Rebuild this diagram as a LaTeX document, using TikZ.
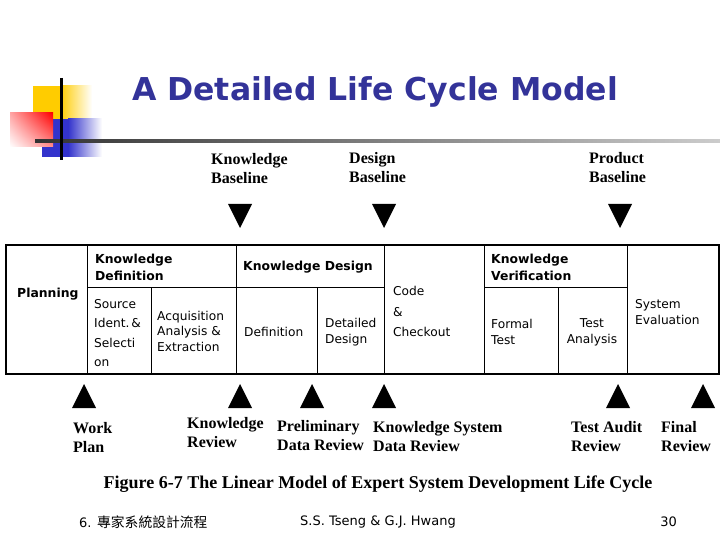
\documentclass[tikz,border=0pt]{standalone}
\usepackage{fontspec}
\usetikzlibrary{shadings}
\setmainfont{Liberation Serif}
\setsansfont{DejaVu Sans}
\newfontfamily\cjkfont{Noto Sans CJK TC}
\definecolor{titleblue}{RGB}{51,51,153}
\definecolor{sqyellow}{RGB}{255,204,0}
\definecolor{sqblue}{RGB}{51,51,204}
\begin{document}
\begin{tikzpicture}[x=1pt,y=-1pt,
  tabtxt/.style={font=\sffamily\fontsize{12.2}{16}\selectfont, inner sep=0pt, align=left, anchor=west},
  tabbold/.style={font=\sffamily\bfseries\fontsize{12.4}{17}\selectfont, inner sep=0pt, align=left, anchor=west},
  mslabel/.style={font=\bfseries\fontsize{16}{19}\selectfont, inner sep=0pt, align=left, anchor=west},
  outer/.style={line width=2pt},
  inner/.style={line width=1pt},
  tri/.style={fill=black}]
\useasboundingbox (0,0) rectangle (720,540);
% decoration
\fill[sqyellow] (33,86) rectangle (60,119);
\shade[left color=sqyellow, right color=white] (60,86) rectangle (92,119);
\fill[sqblue] (42,119) rectangle (68,157);
\shade[left color=sqblue, right color=white] (68,119) rectangle (102,157);
\shade[upper right=red, upper left=red!35, lower right=red!45, lower left=white] (10,113) rectangle (53,147);
\shade[left color=black!80, right color=black!20] (35,139.5) rectangle (720,142.5);
\draw[line width=3pt] (61,78) -- (61,160);
% title
\node[font=\sffamily\bfseries\fontsize{31.5}{36}\selectfont, text=titleblue, inner sep=0pt] (title) at (375,92) {A Detailed Life Cycle Model};
% table lines
\draw[outer] (6,245) rectangle (719,374);
\draw[inner] (87,245) -- (87,374);
\draw[inner] (87,287) -- (384,287);
\draw[inner] (151,287) -- (151,374);
\draw[inner] (236,245) -- (236,374);
\draw[inner] (317,287) -- (317,374);
\draw[inner] (384,245) -- (384,374);
\draw[inner] (484,245) -- (484,374);
\draw[inner] (484,287) -- (627,287);
\draw[inner] (558,287) -- (558,374);
\draw[inner] (627,245) -- (627,374);
% table text
\node[tabbold] (planning) at (17,294) {Planning};
\node[tabbold] (kdef) at (95,267.5) {Knowledge\\Definition};
\node[tabbold] (kdes) at (243,267) {Knowledge Design};
\node[tabbold] (kver) at (491,267.5) {Knowledge\\Verification};
\node[tabtxt, font=\sffamily\fontsize{12.2}{19.3}\selectfont] (source) at (94,333) {Source\\Ident.\,\&\\Selecti\\on};
\node[tabtxt, font=\sffamily\fontsize{12.2}{15.5}\selectfont] (acq) at (157,331) {Acquisition\\Analysis \&\\Extraction};
\node[tabtxt] (defn) at (244,332) {Definition};
\node[tabtxt] (detail) at (325,332) {Detailed\\Design};
\node[tabtxt, font=\sffamily\fontsize{12.2}{20.5}\selectfont] (code) at (393,311.5) {Code\\\&\\Checkout};
\node[tabtxt] (formal) at (491,332) {Formal\\Test};
\node[tabtxt, align=center, anchor=center] (tana) at (592,332) {Test\\Analysis};
\node[tabtxt] (sysev) at (635,312) {System\\Evaluation};
% baselines (top)
\node[mslabel] (kbase) at (211,169) {Knowledge\\Baseline};
\node[mslabel] (dbase) at (349,167.5) {Design\\Baseline};
\node[mslabel] (pbase) at (589,167.5) {Product\\Baseline};
\foreach \n/\x in {t1/240,t2/384,t3/620}{
  \fill[tri] (\x-12,204) -- (\x+12,204) -- (\x,228) -- cycle;
}
% reviews (bottom)
\foreach \n/\x in {b1/84,b2/240,b3/312,b4/384,b5/618,b6/703}{
  \fill[tri] (\x-12,408) -- (\x+12,408) -- (\x,384) -- cycle;
}
\node[mslabel] (wplan) at (73,438) {Work\\Plan};
\node[mslabel] (krev) at (187,432.5) {Knowledge\\Review};
\node[mslabel] (prev) at (277,436) {Preliminary\\Data Review};
\node[mslabel] (ksrev) at (373,436.5) {Knowledge System\\Data Review};
\node[mslabel] (tarev) at (571,436.5) {Test Audit\\Review};
\node[mslabel] (frev) at (661,436.5) {Final\\Review};
% caption
\node[font=\bfseries\fontsize{18}{21}\selectfont, inner sep=0pt] (caption) at (378,484) {Figure 6-7 The Linear Model of Expert System Development Life Cycle};
% footer
\node[font=\fontsize{13}{15}\selectfont, inner sep=0pt, anchor=west] (foot1) at (79,522) {\sffamily 6. \cjkfont\fontsize{13.8}{15}\selectfont 專家系統設計流程};
\node[font=\sffamily\fontsize{13}{15}\selectfont, inner sep=0pt] (foot2) at (378,522) {S.S. Tseng \& G.J. Hwang};
\node[font=\sffamily\fontsize{13}{15}\selectfont, inner sep=0pt, anchor=east] (foot3) at (677,522) {30};
\end{tikzpicture}
\end{document}
